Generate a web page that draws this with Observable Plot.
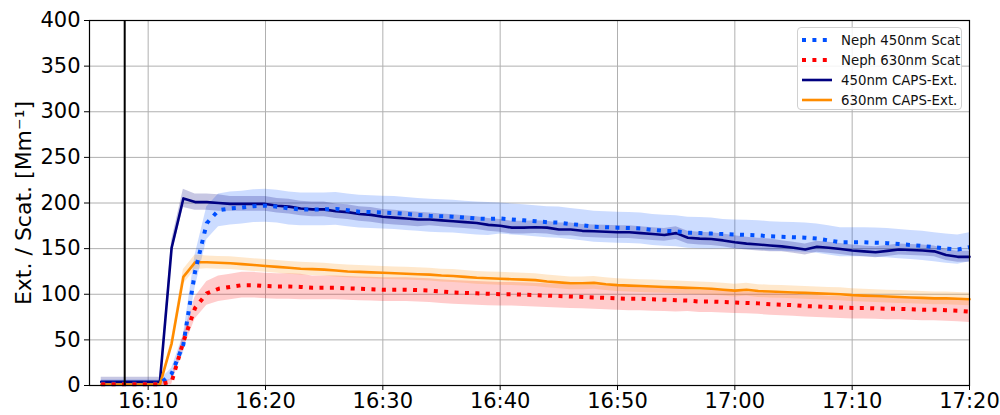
<!DOCTYPE html>
<html>
<head>
<meta charset="utf-8">
<script src="https://cdn.jsdelivr.net/npm/d3@7"></script>
<script src="https://cdn.jsdelivr.net/npm/@observablehq/plot@0.6"></script>
<style>
  body { margin: 0; background: #fff; }
  #chart { position: relative; width: 1000px; height: 415px; font-family: "DejaVu Sans", sans-serif; }
  .legend { position: absolute; left: 797px; top: 27px; width: 165px; height: 83px; border: 1px solid #d0d0d0; border-radius: 4px; background: rgba(255,255,255,0.85); box-sizing: border-box; padding-top: 2px; }
  .legend .row { display: flex; align-items: center; height: 20px; font-size: 13.3px; color: #111; }
  .legend svg { margin-left: 4px; margin-right: 9px; }
</style>
</head>
<body>
<div id="chart"></div>
<script>
// ---- data (1-minute samples from 16:06 to 17:20) ----
const startTime = Date.UTC(2024, 0, 1, 16, 6);
const endTime = Date.UTC(2024, 0, 1, 17, 21);
const times = d3.utcMinute.range(new Date(startTime), new Date(endTime));

const caps450 = [
  4,4,4,4,4,4,151,205,201,201,
  200,199,199,199,199,197,196,194,193,193,
  191,190,188,187,185,184,183,182,182,181,
  180,179,178,176,175,173,173,173.5,173,171,
  171,169.5,169,168.5,168,168,167,166,165,167,
  162,161,160.5,159,157,155.5,154.5,153.5,152.5,151,
  149,152,151,149.5,148,147,146,147.5,149,148.5,
  148,147,143,141,141
];
const caps450Sd = [
  5,5,5,5,5,5,8,10,9,9,
  9,8,8,8,8,8,8,8,8,8,
  8,8,8,8,8,8,8,8,7,7,
  7,7,7,7,7,7,7,7,7,7,
  7,7,7,7,7,7,7,7,7,7,
  7,7,7,7,7,7,7,7,6,6,
  6,6,6,6,6,6,6,6,6,6,
  6,6,6,6,6
];
const neph450 = [
  2,2,2,2,2,2,13,45,125,178,
  192,194,195,196.5,197,196,194,193,193,193,
  193.5,192,190.5,190,189.5,189,188,187,186,185.5,
  185,184,183,182.5,183,182,181,180,179,178.5,
  177,175.5,174,173.5,173,172.5,172,170.5,169.5,169,
  167.5,167,166.5,166,165.5,165,164.5,163.5,163,162.5,
  162,161,159,157,157,157,156.5,156,155,154,
  153,151.5,150,149,151.5
];
const neph450Sd = [
  4,4,4,4,4,4,6,10,18,18,
  18,18,18,18,18,18,18,18,18,18,
  18,18,18,18,18,18,18,18,18,18,
  18,18,18,18,17,17,17,17,17,17,
  17,17,17,17,17,17,17,17,17,17,
  17,17,17,16,16,16,16,16,16,16,
  16,16,16,16,16,16,16,16,16,16,
  16,16,16,16,16
];
const caps630 = [
  1,1,1,1,1,1,46,119,135,135,
  134.5,134,133,132,131,130,129,128,127.5,127,
  126,125,124.5,124,123.5,123,122.5,122,121.5,120.5,
  120,119,118,117.5,117,116.5,116,115.5,114,113,
  112,112,112.5,111,110,109.5,109,108.5,108,107.5,
  107,106.5,106,105,104,105,103.5,103,102.5,102,
  101.5,101,100.5,100,99,98.5,98,97.5,97,96.5,
  96,95.5,95.5,95,94.5
];
const caps630Sd = [
  2,2,2,2,2,2,5,8,8,7,
  7,7,7,7,7,7,7,7,7,7,
  7,7,7,7,7,7,7,7,7,7,
  7,7,7,7,7,7,7,7,7,7,
  7,7,7,7,7,7,7,7,7,7,
  7,7,7,7,7,7,7,7,7,7,
  7,7,7,7,7,7,7,7,7,7,
  7,7,7,7,7
];
const neph630 = [
  1.5,1.5,1.5,1.5,1.5,1.5,4,48,85,101,
  106,108,110,110,109,108.5,108.5,108,107,107,
  107,106.5,106,105.5,105,105,105,104.5,104,103,
  102,101.5,101,100.5,100,100,99.5,99,98.5,98,
  97.5,97,96.5,96,95.5,95,95,94.5,94,93.5,
  93,92,92,91.5,91,90.5,90,89,88.5,88,
  87,86.5,86,85.5,85,85,84.5,84,84,83.5,
  83,83,82.5,82,81
];
const neph630Sd = [
  2,2,2,2,2,2,3,8,12,13,
  14,14,14,14,14,14,14,14,13,13,
  13,13,13,13,13,13,13,13,13,13,
  13,13,13,13,13,13,13,13,13,13,
  13,13,13,13,13,13,13,13,13,13,
  12,12,12,12,12,12,12,12,12,12,
  12,12,12,12,12,12,12,12,12,12,
  12,12,12,12,12
];

const xTickLabels = ["16:10","16:20","16:30","16:40","16:50","17:00","17:10","17:20"];
const yTicks = [0,50,100,150,200,250,300,350,400];
const markerTime = "16:08";
const xStart = "16:05", xEnd = "17:20";
const yLabel = "Ext. / Scat. [Mm\u207B\u00B9]";

const series = [
  {name: "Neph 450nm Scat", values: neph450, sd: neph450Sd, color: "#0050ff", band: "#0050ff", bandOpacity: 0.2, dotted: true},
  {name: "Neph 630nm Scat", values: neph630, sd: neph630Sd, color: "#ff0000", band: "#ff0000", bandOpacity: 0.2, dotted: true},
  {name: "450nm CAPS-Ext.", values: caps450, sd: caps450Sd, color: "#000080", band: "#000080", bandOpacity: 0.22, dotted: false},
  {name: "630nm CAPS-Ext.", values: caps630, sd: caps630Sd, color: "#ff8c00", band: "#ff8c00", bandOpacity: 0.2, dotted: false}
];

// ---- build table ----
const hm = s => { const [h, m] = s.split(":").map(Number); return new Date(Date.UTC(2024, 0, 1, h, m)); };
const rows = [];
series.forEach(s => times.forEach((t, i) => rows.push({series: s.name, t, v: s.values[i], lo: s.values[i] - s.sd[i], hi: s.values[i] + s.sd[i]})));

const marks = [
  Plot.gridX(xTickLabels.map(hm), {stroke: "#b0b0b0", strokeOpacity: 1, strokeWidth: 1}),
  Plot.gridY(yTicks, {stroke: "#b0b0b0", strokeOpacity: 1, strokeWidth: 1})
];
series.forEach(s => {
  marks.push(Plot.areaY(rows.filter(r => r.series === s.name), {x: "t", y1: "lo", y2: "hi", fill: s.band, fillOpacity: s.bandOpacity}));
});
series.filter(s => !s.dotted).forEach(s => {
  marks.push(Plot.line(rows.filter(r => r.series === s.name), {x: "t", y: "v", stroke: s.color, strokeWidth: 2.6}));
});
series.filter(s => s.dotted).forEach(s => {
  marks.push(Plot.line(rows.filter(r => r.series === s.name), {x: "t", y: "v", stroke: s.color, strokeWidth: 4, strokeDasharray: "4,6.4", strokeLinecap: "butt"}));
});
marks.push(Plot.ruleX([hm(markerTime)], {y1: 0, y2: 400, stroke: "black", strokeWidth: 2}));
marks.push(Plot.frame({stroke: "black", strokeWidth: 1.2}));
marks.push(Plot.axisX(xTickLabels.map(hm), {tickFormat: d3.utcFormat("%H:%M"), tickSize: 5, tickPadding: 3, fontSize: 21, label: null, stroke: "black"}));
marks.push(Plot.axisY(yTicks, {tickSize: 5, tickPadding: 4, fontSize: 21, label: null, stroke: "black"}));
marks.push(Plot.text([yLabel], {text: d => d, frameAnchor: "left", textAnchor: "middle", dx: -66, rotate: -90, fontSize: 22, fill: "black"}));

const plot = Plot.plot({
  width: 1000,
  height: 415,
  marginLeft: 89,
  marginRight: 31,
  marginTop: 20,
  marginBottom: 30,
  x: {type: "utc", domain: [hm(xStart), hm(xEnd)]},
  y: {domain: [0, 400]},
  style: {fontFamily: "DejaVu Sans, sans-serif", color: "black", background: "white", overflow: "visible"},
  marks
});

const chart = document.getElementById("chart");
chart.appendChild(plot);

// ---- legend ----
const legend = document.createElement("div");
legend.className = "legend";
series.forEach(s => {
  const row = document.createElement("div");
  row.className = "row";
  const dash = s.dotted ? 'stroke-dasharray="4,6.4" stroke-width="4"' : 'stroke-width="2.6"';
  row.innerHTML = `<svg width="30" height="10"><line x1="0" y1="5" x2="30" y2="5" stroke="${s.color}" ${dash}/></svg><span>${s.name}</span>`;
  legend.appendChild(row);
});
chart.appendChild(legend);
</script>
</body>
</html>
